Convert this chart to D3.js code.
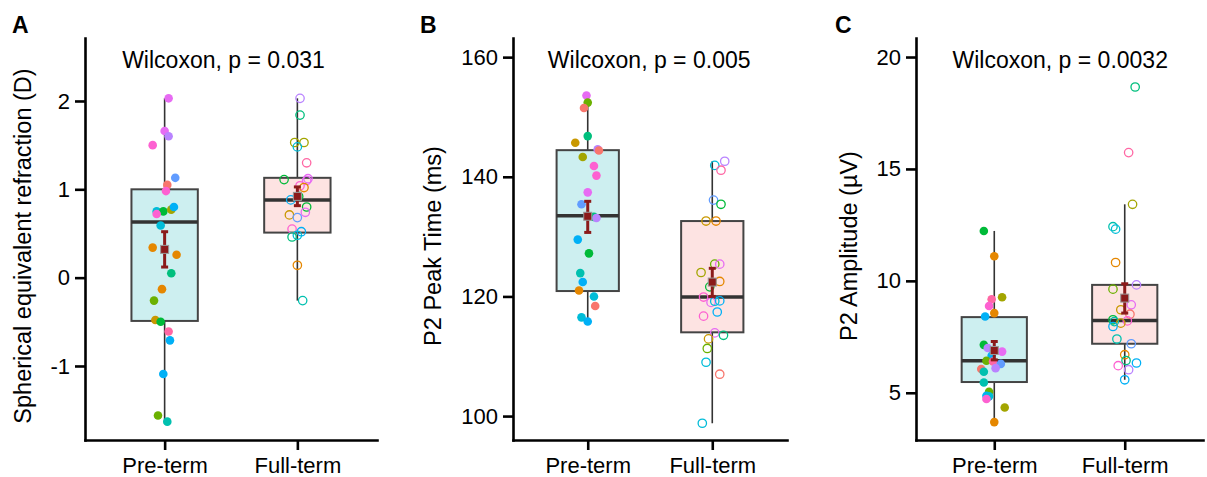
<!DOCTYPE html>
<html>
<head>
<meta charset="utf-8">
<script src="https://cdn.jsdelivr.net/npm/d3@7"></script>
<style>
  body { margin: 0; background: #fff; }
  svg { font-family: "Liberation Sans", Arial, sans-serif; }
  .domain { stroke-linecap: square; }
</style>
</head>
<body>
<div id="chart"></div>
<script>
/*groups on the x axis*/
var groups = ["Pre-term", "Full-term"];

/*point colours (hue palette, one per subject)*/
var palette = ["#F8766D", "#E58700", "#C99800", "#A3A500", "#6BB100", "#00BA38", "#00BF7D",
  "#00C0AF", "#00BCD8", "#00B0F6", "#619CFF", "#B983FF", "#E76BF3", "#FD61D1", "#FF67A4"];

/*panel A: spherical equivalent refraction (D)*/
var refPreVal = [2.03, 1.66, 1.60, 1.50, 1.13, 1.05, 0.98, 0.75, 0.75, 0.77, 0.80, 0.72, 0.59, 0.34, 0.26, 0.05, -0.13, -0.26, -0.48, -0.50, -0.61, -0.71, -1.09, -1.56, -1.63];
var refPreJit = [0.03, 0.00, 0.03, -0.09, 0.08, 0.02, 0.01, -0.06, -0.01, 0.05, 0.07, -0.06, -0.03, -0.09, 0.09, 0.05, -0.02, -0.08, -0.07, -0.03, 0.03, 0.04, -0.01, -0.05, 0.02];
var refPreCol = [12, 12, 11, 13, 10, 0, 13, 8, 5, 3, 9, 13, 8, 1, 1, 6, 1, 4, 2, 5, 14, 9, 9, 4, 7];
var refFullVal = [2.03, 1.84, 1.53, 1.53, 1.48, 1.30, 1.11, 1.12, 1.10, 1.04, 1.02, 0.92, 0.88, 0.80, 0.74, 0.71, 0.68, 0.55, 0.52, 0.48, 0.46, 0.14, -0.26];
var refFullJit = [0.02, 0.02, -0.02, 0.05, 0.00, 0.07, -0.10, 0.08, 0.07, 0.02, 0.05, 0.01, -0.05, 0.07, 0.06, -0.06, 0.00, -0.04, 0.03, 0.00, -0.04, 0.00, 0.04];
var refFullCol = [11, 6, 3, 3, 8, 14, 5, 12, 12, 13, 1, 5, 9, 5, 12, 2, 10, 13, 9, 8, 6, 1, 7];
var refBox = [[-1.63, -0.49, 0.63, 1.00, 2.03], [-0.26, 0.51, 0.88, 1.13, 2.03]];
var refMean = [[0.32, 0.12, 0.52], [0.92, 0.815, 1.027]];

/*panel B: P2 peak time (ms)*/
var timePreVal = [153.6, 152.4, 151.5, 146.8, 145.7, 144.6, 144.4, 143.3, 141.8, 140.2, 137.4, 135.4, 133.3, 133.1, 129.5, 127.2, 123.9, 122.4, 121.0, 120.0, 118.4, 116.5, 115.8];
var timePreJit = [-0.01, 0.00, -0.03, 0.00, -0.10, 0.08, 0.09, -0.04, 0.05, 0.07, 0.00, -0.05, 0.05, 0.07, -0.08, 0.01, -0.06, -0.04, -0.07, 0.05, 0.06, -0.05, 0.00];
var timePreCol = [12, 4, 0, 6, 2, 11, 0, 3, 13, 13, 12, 10, 6, 11, 9, 5, 7, 9, 1, 8, 0, 8, 9];
var timeFullVal = [142.6, 141.9, 141.1, 136.1, 135.4, 132.6, 132.6, 125.4, 125.4, 124.0, 122.5, 121.6, 119.9, 119.0, 119.2, 119.25, 117.4, 116.7, 113.9, 113.5, 112.9, 111.3, 109.0, 107.0, 98.8];
var timeFullJit = [0.10, 0.02, 0.07, 0.01, 0.07, -0.05, 0.03, 0.02, 0.06, -0.09, 0.06, -0.02, -0.07, -0.01, 0.02, 0.06, 0.04, -0.07, 0.02, 0.09, -0.03, -0.04, -0.05, 0.06, -0.08];
var timeFullCol = [11, 8, 14, 10, 5, 2, 1, 4, 12, 3, 1, 5, 13, 12, 8, 9, 9, 13, 12, 6, 2, 4, 8, 0, 8];
var timeBox = [[115.8, 120.9, 133.5, 144.45, 153.6], [98.8, 114.0, 119.9, 132.6, 142.6]];
var timeMean = [[133.4, 130.7, 135.9], [122.4, 120.0, 124.7]];

/*panel C: P2 amplitude (µV)*/
var ampPreVal = [12.23, 11.1, 9.27, 9.18, 8.88, 8.56, 8.41, 7.14, 7.0, 6.84, 6.65, 6.43, 6.40, 6.29, 6.10, 6.06, 5.94, 5.46, 5.04, 4.87, 4.84, 4.72, 4.34, 3.69];
var ampPreJit = [-0.08, 0.00, 0.06, -0.02, -0.04, 0.00, -0.07, -0.08, -0.05, 0.06, -0.02, -0.06, -0.01, 0.05, 0.01, -0.10, -0.08, -0.08, -0.04, -0.06, -0.04, -0.06, 0.08, 0.00];
var ampPreCol = [5, 1, 3, 14, 13, 1, 9, 5, 11, 12, 9, 4, 14, 10, 11, 0, 7, 7, 4, 9, 8, 13, 3, 1];
var ampFullVal = [18.66, 15.73, 13.42, 12.42, 12.31, 10.82, 9.82, 9.63, 8.93, 8.71, 8.51, 8.26, 8.21, 8.18, 8.11, 7.96, 7.40, 7.19, 6.70, 6.44, 6.33, 6.21, 6.03, 5.58];
var ampFullJit = [0.08, 0.03, 0.06, -0.09, -0.07, -0.07, 0.09, -0.09, 0.05, -0.03, 0.04, -0.09, 0.02, -0.08, -0.03, -0.09, -0.06, 0.05, 0.00, 0.01, 0.09, -0.05, 0.03, 0.00];
var ampFullCol = [6, 14, 3, 7, 8, 1, 11, 4, 12, 2, 0, 5, 13, 7, 2, 9, 7, 10, 1, 6, 9, 13, 11, 9];
var ampBox = [[3.69, 5.48, 6.43, 8.38, 12.23], [5.58, 7.19, 8.23, 9.82, 13.42]];
var ampMean = [[6.89, 6.47, 7.29], [9.23, 8.56, 9.87]];

/*svg container*/
var svgWidth = 1207;
var svgHeight = 477;
var top0 = 38, bottom0 = 440;

var svg = d3.select("#chart").append("svg")
  .attr("width", svgWidth)
  .attr("height", svgHeight);

svg.append("rect").attr("width", svgWidth).attr("height", svgHeight).attr("fill", "#fff");

var boxFill = ["#CDEFF0", "#FDE3E2"];

/*panel definitions*/
var panels = [
  {letter: "A", letterX: 12, left: 85, right: 377, domain: [-1.838, 2.713], ticks: [-1, 0, 1, 2],
   label: "Spherical equivalent refraction (D)", labelX: 31, test: "Wilcoxon, p = 0.031",
   vals: [refPreVal, refFullVal], jit: [refPreJit, refFullJit], col: [refPreCol, refFullCol], box: refBox, mean: refMean},
  {letter: "B", letterX: 420, left: 513, right: 787, domain: [96.0, 163.2], ticks: [100, 120, 140, 160],
   label: "P2 Peak Time (ms)", labelX: 441, test: "Wilcoxon, p = 0.005",
   vals: [timePreVal, timeFullVal], jit: [timePreJit, timeFullJit], col: [timePreCol, timeFullCol], box: timeBox, mean: timeMean},
  {letter: "C", letterX: 835, left: 916, right: 1203, domain: [2.89, 20.85], ticks: [5, 10, 15, 20],
   label: "P2 Amplitude (µV)", labelX: 857, test: "Wilcoxon, p = 0.0032",
   vals: [ampPreVal, ampFullVal], jit: [ampPreJit, ampFullJit], col: [ampPreCol, ampFullCol], box: ampBox, mean: ampMean}
];

panels.forEach(drawPanel);

function drawPanel(p) {
  var xScale = d3.scalePoint().domain(groups).range([p.left, p.right]).padding(0.6);
  var yScale = d3.scaleLinear().domain(p.domain).range([bottom0, top0]);
  var step = xScale.step();
  var g = svg.append("g");

  /*boxes*/
  groups.forEach(function(grp, i) {
    var s = p.box[i];
    var cx = xScale(grp);
    var hw = step * 0.25;
    g.append("line")
      .attr("x1", cx).attr("x2", cx)
      .attr("y1", yScale(s[4])).attr("y2", yScale(s[0]))
      .attr("stroke", "#333").attr("stroke-width", 1.6);
    g.append("rect")
      .attr("x", cx - hw).attr("width", hw * 2)
      .attr("y", yScale(s[3])).attr("height", yScale(s[1]) - yScale(s[3]))
      .attr("fill", boxFill[i]).attr("stroke", "#444").attr("stroke-width", 2);
    g.append("line")
      .attr("x1", cx - hw).attr("x2", cx + hw)
      .attr("y1", yScale(s[2])).attr("y2", yScale(s[2]))
      .attr("stroke", "#333").attr("stroke-width", 3.5);
  });

  /*jittered points: filled for pre-term, open for full-term*/
  groups.forEach(function(grp, i) {
    var pts = p.vals[i].map(function(v, k) {
      return {v: v, j: p.jit[i][k], c: palette[p.col[i][k]]};
    });
    g.selectAll(".pt" + i)
      .data(pts)
      .enter()
      .append("circle")
      .attr("cx", d => xScale(grp) + d.j * step)
      .attr("cy", d => yScale(d.v))
      .attr("r", i === 0 ? 4.3 : 4.2)
      .attr("fill", d => i === 0 ? d.c : "none")
      .attr("stroke", d => d.c)
      .attr("stroke-width", i === 0 ? 0 : 1.3);
  });

  /*mean +/- se*/
  groups.forEach(function(grp, i) {
    var m = p.mean[i];
    var cx = xScale(grp);
    var red = "#8B1A1A";
    g.append("line")
      .attr("x1", cx).attr("x2", cx)
      .attr("y1", yScale(m[1])).attr("y2", yScale(m[2]))
      .attr("stroke", red).attr("stroke-width", 3);
    [m[1], m[2]].forEach(function(v) {
      g.append("line")
        .attr("x1", cx - 3.5).attr("x2", cx + 3.5)
        .attr("y1", yScale(v)).attr("y2", yScale(v))
        .attr("stroke", red).attr("stroke-width", 3);
    });
    g.append("rect")
      .attr("x", cx - 4).attr("y", yScale(m[0]) - 4)
      .attr("width", 8).attr("height", 8)
      .attr("fill", red).attr("stroke", "#999").attr("stroke-width", 1);
  });

  /*axes*/
  var leftAxis = d3.axisLeft(yScale).tickValues(p.ticks).tickFormat(d => String(d))
    .tickSize(10).tickSizeOuter(0).tickPadding(5);
  var bottomAxis = d3.axisBottom(xScale).tickSize(10).tickSizeOuter(0).tickPadding(7);

  var ya = svg.append("g")
    .attr("transform", `translate(${p.left},0)`)
    .call(leftAxis);
  var xa = svg.append("g")
    .attr("transform", `translate(0,${bottom0})`)
    .call(bottomAxis);
  [ya, xa].forEach(function(a) {
    a.selectAll("path, line").attr("stroke", "#000").attr("stroke-width", 2.6);
    a.selectAll("text").attr("fill", "#000").style("font-size", "22px")
      .style("font-family", "'Liberation Sans', Arial, sans-serif");
  });

  /*labels*/
  svg.append("text")
    .attr("transform", `translate(${p.labelX},246) rotate(-90)`)
    .attr("text-anchor", "middle")
    .style("font-size", "23.5px")
    .text(p.label);

  svg.append("text")
    .attr("x", p.letterX).attr("y", 33)
    .style("font-size", "23px").style("font-weight", "bold")
    .text(p.letter);

  svg.append("text")
    .attr("x", xScale(groups[0]) - 0.32 * step).attr("y", 68)
    .style("font-size", "23px")
    .text(p.test);
}
</script>
</body>
</html>
